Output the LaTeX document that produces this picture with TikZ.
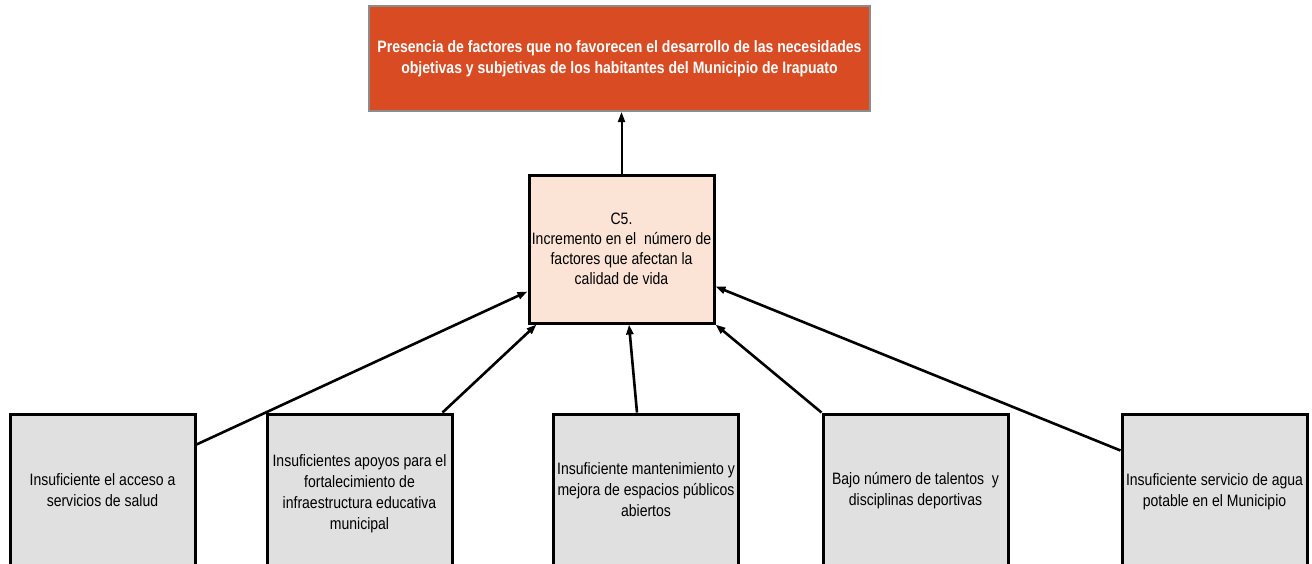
\documentclass[tikz,border=0pt]{standalone}
\usepackage{fontspec}
\setmainfont{Liberation Sans}[FakeStretch=0.85]
\usetikzlibrary{calc,arrows.meta}
\definecolor{topfill}{RGB}{216,75,35}
\definecolor{topborder}{RGB}{140,140,140}
\definecolor{midfill}{RGB}{251,228,214}
\definecolor{cellfill}{RGB}{224,224,224}
\tikzset{
  topbox/.style={draw=topborder, line width=2pt, fill=topfill, minimum width=501, minimum height=105, inner sep=0pt, text=white, font=\fontsize{16.5}{21}\selectfont\bfseries, align=center},
  midbox/.style={draw=black, line width=3pt, fill=midfill, minimum width=185, minimum height=148, inner sep=0pt, font=\fontsize{16.5}{20}\selectfont, align=center},
  cellbox/.style={draw=black, line width=3pt, fill=cellfill, minimum width=185, minimum height=152, inner sep=0pt},
  celltext/.style={font=\fontsize{16.5}{21}\selectfont, align=center, inner sep=0pt},
  conn/.style={line width=2.6pt, -{Triangle[length=10pt,width=7pt]}, shorten >=0pt},
  upconn/.style={line width=2pt, -{Triangle[length=10pt,width=7pt]}}
}
\begin{document}
\begin{tikzpicture}[x=1pt,y=-1pt]
\useasboundingbox (0,0) rectangle (1312,563);
\node[topbox] (top) at (619.5,58.5) {Presencia de factores que no favorecen el desarrollo de las necesidades\\objetivas y subjetivas de los habitantes del Municipio de Irapuato};
\node[midbox] (mid) at (621.5,249) {C5.\\Incremento en el\ \ número de\\factores que afectan la\\calidad de vida};

\node[cellbox] (b1) at (102.5,490) {};
\node[cellbox] (b2) at (359.5,490) {};
\node[cellbox] (b3) at (646,490) {};
\node[cellbox] (b4) at (915.5,490) {};
\node[cellbox] (b5) at (1214.5,490) {};

\node[celltext] (t1) at (102.5,490) {Insuficiente el acceso a\\servicios de salud};
\node[celltext] (t2) at (359.5,494) {Insuficientes apoyos para el\\fortalecimiento de\\infraestructura educativa\\municipal};
\node[celltext] (t3) at (646,490) {Insuficiente mantenimiento y\\mejora de espacios públicos\\abiertos};
\node[celltext] (t4) at (915.5,491) {Bajo número de talentos\ \ y\\disciplinas deportivas};
\node[celltext] (t5) at (1214.5,492) {Insuficiente servicio de agua\\potable en el Municipio};

\draw[upconn] (mid.north) -- (mid.north |- top.south);
\draw[conn] ($(b1.north east)+(0,32)$) -- ($(mid.north west)+(0,118)$);
\draw[conn] ($(b2.north east)+(-11,0)$) -- ($(mid.south west)+(9,0)$);
\draw[conn] ($(b3.north)+(-9,0)$) -- ($(mid.south)+(7.5,0)$);
\draw[conn] (b4.north west) -- (mid.south east);
\draw[conn] ($(b5.north west)+(0,38)$) -- ($(mid.north east)+(0,113)$);
\end{tikzpicture}
\end{document}
